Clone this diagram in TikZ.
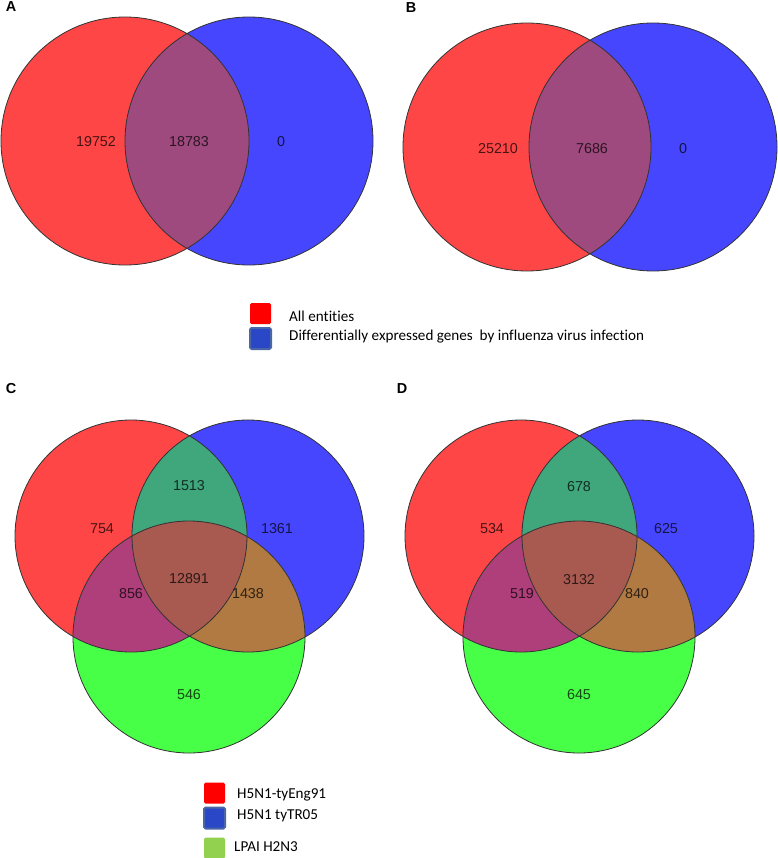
\documentclass[tikz,border=0pt]{standalone}
\usepackage{fontspec}
\setmainfont{Liberation Sans}
\newfontfamily\keyfont[Ligatures=NoCommon]{Carlito}
\definecolor{setred}{HTML}{FF4646}
\definecolor{setblue}{HTML}{4646FF}
\definecolor{setgreen}{HTML}{46FF46}
\definecolor{redblue}{HTML}{9E4A7E}
\definecolor{topteal}{HTML}{40A67C}
\definecolor{redgreen}{HTML}{AE3F7A}
\definecolor{bluegreen}{HTML}{B07A42}
\definecolor{allthree}{HTML}{A85A50}
\definecolor{keyblue}{HTML}{2A47C8}
\definecolor{keyblueedge}{HTML}{4A66A6}
\definecolor{keygreen}{HTML}{92D050}
% three-set diagram, shifted by #1
\newcommand{\threesets}[1]{%
  \begin{scope}[xshift=#1]
  \fill[setred] (131,536) circle (116);
  \fill[setblue] (248,536) circle (116);
  \fill[setgreen] (189,637) circle (116);
  \begin{scope}\clip (131,536) circle (116); \fill[topteal] (248,536) circle (116);\end{scope}
  \begin{scope}\clip (131,536) circle (116); \fill[redgreen] (189,637) circle (116);\end{scope}
  \begin{scope}\clip (248,536) circle (116); \fill[bluegreen] (189,637) circle (116);\end{scope}
  \begin{scope}\clip (131,536) circle (116); \clip (248,536) circle (116);
    \fill[allthree] (189,637) circle (116);\end{scope}
  \draw[rim] (131,536) circle (116) (248,536) circle (116) (189,637) circle (116);
  \end{scope}}
\begin{document}
\begin{tikzpicture}[x=1bp,y=-1bp,line join=bevel,
  rim/.style={draw=black!80,line width=0.8bp},
  count/.style={font=\fontsize{14.4}{16}\selectfont,text=black,text opacity=0.72,inner sep=0pt},
  panel/.style={font=\fontsize{14.5}{16}\selectfont\bfseries,inner sep=0pt},
  key/.style={font=\keyfont\fontsize{15.2}{17}\selectfont,anchor=west,inner sep=0pt},
  swatch/.style={minimum size=21bp,inner sep=0pt,rounded corners=1.5bp}]
\useasboundingbox (0,0) rectangle (778,858);
%% panel A
\fill[setred] (125,141) circle (124);
\fill[setblue] (249,141) circle (124);
\begin{scope}\clip (125,141) circle (124); \fill[redblue] (249,141) circle (124);\end{scope}
\draw[rim] (125,141) circle (124) (249,141) circle (124);
\node (panel_a) at (11,7) [panel] {A};
\node (num_a_0) at (96,142) [count] {19752};
\node (num_a_1) at (189,142) [count] {18783};
\node (num_a_2) at (281,142) [count] {0};
%% panel B
\fill[setred] (527,147) circle (124);
\fill[setblue] (653,147) circle (124);
\begin{scope}\clip (527,147) circle (124); \fill[redblue] (653,147) circle (124);\end{scope}
\draw[rim] (527,147) circle (124) (653,147) circle (124);
\node (panel_b) at (411,8) [panel] {B};
\node (num_b_0) at (498,149) [count] {25210};
\node (num_b_1) at (592,149) [count] {7686};
\node (num_b_2) at (683,149) [count] {0};
%% key for A and B
\node (key_ab_0) at (260.5,313.5) [swatch,fill=red] {};
\node (key_ab_1) at (260.5,338.5) [swatch,fill=keyblue,draw=keyblueedge,line width=2bp] {};
\node (txt_ab_0) at (289,316) [key] {All entities};
\node (txt_ab_1) at (289,337) [key] {Differentially expressed genes\ \ by influenza virus infection};
%% panel C
\threesets{0bp}
\node (panel_c) at (11,389) [panel] {C};
\node (num_c_0) at (189,486) [count] {1513};
\node (num_c_1) at (102,529) [count] {754};
\node (num_c_2) at (277,529) [count] {1361};
\node (num_c_3) at (189,579) [count] {12891};
\node (num_c_4) at (131,594) [count] {856};
\node (num_c_5) at (248,594) [count] {1438};
\node (num_c_6) at (189,695) [count] {546};
%% panel D
\threesets{390bp}
\node (panel_d) at (402,389) [panel] {D};
\node (num_d_0) at (579,487) [count] {678};
\node (num_d_1) at (492,529) [count] {534};
\node (num_d_2) at (666,529) [count] {625};
\node (num_d_3) at (579,580) [count] {3132};
\node (num_d_4) at (522,594) [count] {519};
\node (num_d_5) at (637,594) [count] {840};
\node (num_d_6) at (579,695) [count] {645};
%% key for C and D
\node (key_cd_0) at (214.5,793) [swatch,fill=red] {};
\node (key_cd_1) at (214.5,818) [swatch,fill=keyblue,draw=keyblueedge,line width=2bp] {};
\node (key_cd_2) at (214.5,848) [swatch,fill=keygreen] {};
\node (txt_cd_0) at (237,795) [key] {H5N1-tyEng91};
\node (txt_cd_1) at (237,816) [key] {H5N1 tyTR05};
\node (txt_cd_2) at (234,847) [key] {LPAI H2N3};
%
\end{tikzpicture}
\end{document}
